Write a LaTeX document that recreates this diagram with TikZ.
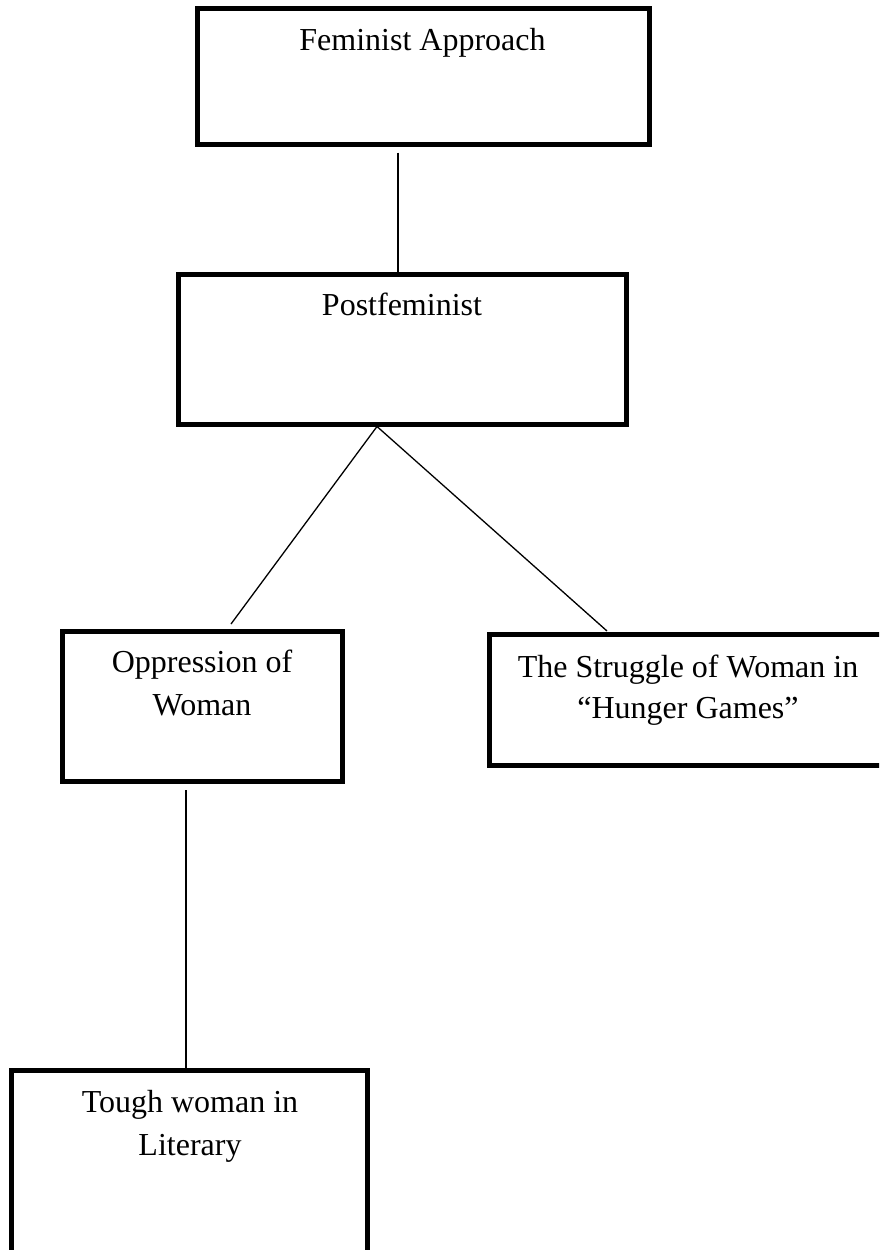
\documentclass[tikz,border=0pt]{standalone}
\usepackage{fontspec}
\setmainfont{Liberation Serif}
\usetikzlibrary{calc}
\begin{document}
\begin{tikzpicture}[x=1pt,y=1pt,
  box/.style={draw=black, line width=5pt, fill=none, inner sep=0pt},
  lbl/.style={inner sep=0pt, anchor=base, text=black, font=\fontsize{32}{41}\selectfont},
  conn/.style={draw=black, line width=1.3pt}]
\useasboundingbox (0,0) rectangle (879,-1250);
\fill[white] (0,0) rectangle (879,-1250);
\clip (0,0) rectangle (879,-1250);
% boxes
\node[box, minimum width=452pt, minimum height=135.5pt] (b1) at (423.5,-76.25) {};
\node[box, minimum width=447.5pt, minimum height=150pt] (b2) at (402.25,-349) {};
\node[box, minimum width=280.5pt, minimum height=150pt] (b3) at (202.25,-706) {};
\node[box, minimum width=396.5pt, minimum height=131pt] (b4) at (687.75,-700) {};
\node[box, minimum width=356pt, minimum height=186pt] (b5) at (189.5,-1163) {};
% texts
\node[lbl] (t1) at (422.5,-50) {Feminist Approach};
\node[lbl] (t2) at (402,-315) {Postfeminist};
\node[lbl] (t3a) at (202,-672) {Oppression of};
\node[lbl] (t3b) at (202,-715) {Woman};
\node[lbl] (t4a) at (688,-677) {The Struggle of Woman in};
\node[lbl] (t4b) at (688,-718) {“Hunger Games”};
\node[lbl] (t5a) at (190,-1112) {Tough woman in};
\node[lbl] (t5b) at (190,-1155) {Literary};
% connector anchor points
\coordinate (c1) at ($(b1.south)+(-25.5,-6)$);
\coordinate (apex) at ($(b2.south)+(-25.25,0)$);
\coordinate (c3) at ($(b3.north)+(28.75,4.5)$);
\coordinate (c4) at ($(b4.north)+(-80.75,1)$);
\coordinate (c5) at ($(b3.south)+(-16.25,-6.5)$);
% connectors
\draw[conn] (c1) -- (c1 |- b2.north);
\draw[conn] (apex) -- (c3);
\draw[conn] (apex) -- (c4);
\draw[conn] (c5) -- (c5 |- b5.north);
\end{tikzpicture}
\end{document}
